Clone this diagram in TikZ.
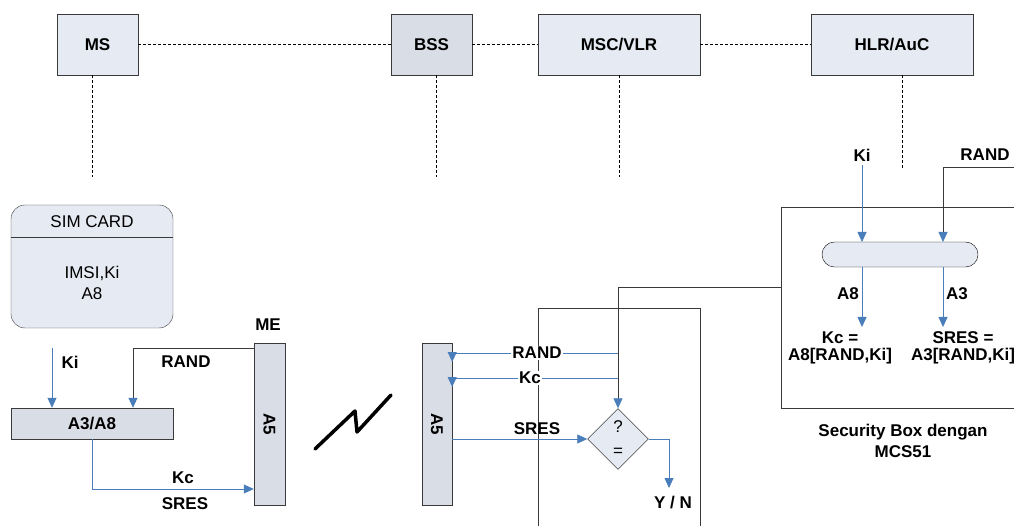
\documentclass[tikz,border=0pt]{standalone}
\usepackage{fontspec}
\setmainfont{Liberation Sans}
\usetikzlibrary{arrows.meta,shapes.geometric,calc}
\definecolor{boxfill}{HTML}{E6EAF2}
\definecolor{boxdark}{HTML}{D9DDE6}
\definecolor{linegray}{HTML}{3A3A3A}
\definecolor{arrowblue}{HTML}{4A7EBB}
\tikzset{
  unit/.style={draw=linegray, fill=boxfill, minimum height=61pt, font=\fontsize{17}{17}\selectfont\bfseries},
  algo/.style={draw=linegray, fill=boxdark, inner sep=0pt},
  lbl/.style={font=\fontsize{17}{17}\selectfont\bfseries, align=center, inner sep=1pt},
  link/.style={dash pattern=on 3pt off 2pt, line width=0.9pt},
  blu/.style={arrowblue, line width=0.8pt, -{Triangle[width=9pt,length=10pt]}},
  blk/.style={linegray, line width=0.8pt, -{Triangle[width=9pt,length=10pt,color=arrowblue]}},
}
\begin{document}
\begin{tikzpicture}[x=1pt, y=-1pt]
\useasboundingbox (0,0) rectangle (1014,526);
\clip (0,0) rectangle (1014,526);
% network elements
\node[unit, minimum width=81pt] (ms) at (97.5,44.5) {MS};
\node[unit, minimum width=81pt, fill=boxdark] (bss) at (431.5,44.5) {BSS};
\node[unit, minimum width=162pt] (msc) at (619,44.5) {MSC/VLR};
\node[unit, minimum width=162pt] (hlr) at (892,44.5) {HLR/AuC};
\draw[link] (ms) -- (bss);
\draw[link] (bss) -- (msc);
\draw[link] (msc) -- (hlr);
\coordinate (msend) at (92,177);
\coordinate (bssend) at (436,177);
\coordinate (mscend) at (619,177);
\coordinate (hlrend) at (902,170);
\draw[link] (msend |- ms.south) -- (msend);
\draw[link] (bssend |- bss.south) -- (bssend);
\draw[link] (mscend |- msc.south) -- (mscend);
\draw[link] (hlrend |- hlr.south) -- (hlrend);
% mobile station
\node[draw=linegray, fill=boxfill, rounded corners=14pt, minimum width=162pt, minimum height=123pt] (sim) at (92,266.5) {};
\draw[linegray] (sim.west |- 0,237) -- (sim.east |- 0,237);
\node[font=\fontsize{17}{17}\selectfont] (simtitle) at (92,222) {SIM CARD};
\node[font=\fontsize{17}{21}\selectfont, align=center] (simdata) at (92,283) {IMSI,Ki\\A8};
\node[algo, minimum width=162pt, minimum height=31pt, font=\fontsize{17}{17}\selectfont\bfseries] (a38) at (92,423.5) {A3/A8};
\node[algo, minimum width=31pt, minimum height=162pt] (mea5) at (269.5,424) {};
\node[lbl, rotate=-90] (mea5txt) at (mea5) {A5};
\node[lbl] (me) at (268,325) {ME};
\coordinate (kitop) at (52,348);
\draw[blu] (kitop) -- (kitop |- a38.north);
\node[lbl] (ki) at (70,362) {Ki};
\draw[blk] (mea5.west |- kitop) -| ($(a38.north)+(41,0)$);
\node[lbl] (rand) at (186,362) {RAND};
\draw[blu] (a38.south) |- (mea5.west |- 0,489);
\node[lbl] (kc) at (183,478) {Kc};
\node[lbl] (sres) at (185,504) {SRES};
% radio link
\draw[line width=3.5pt, line cap=round, line join=round] (315,449) -- (355,411) -- (357,432) -- (391,395);
% base station side
\node[algo, minimum width=30pt, minimum height=162pt] (bsa5) at (437,424) {};
\node[lbl, rotate=-90] (bsa5txt) at (bsa5) {A5};
\draw[linegray, line width=0.8pt] (538,540) -- (538,308) -- (700,308) -- (700,540);
\node[draw=black, fill=boxfill, diamond, minimum width=61pt, minimum height=61pt, inner sep=0pt] (cmp) at (618,439) {};
\node[font=\fontsize{17}{17}\selectfont] (cmpq) at (618,427) {?};
\node[font=\fontsize{17}{17}\selectfont] (cmpeq) at (618,452) {=};
\draw[blk] (781,287) -| (cmp.north);
\draw[blu] (618,353) -- (bsa5.east |- 0,353) -- (bsa5.east |- 0,362);
\draw[blu] (618,378) -- (bsa5.east |- 0,378) -- (bsa5.east |- 0,387);
\node[lbl, fill=white] (rand2) at (537,353) {RAND};
\node[lbl, fill=white] (kc2) at (530,378) {Kc};
\draw[blu] (bsa5.east |- cmp.west) -- (cmp.west);
\node[lbl] (sres2) at (537,429) {SRES};
\draw[blu] (cmp.east) -| (669,488);
\node[lbl] (yn) at (673,503) {Y / N};
% authentication centre
\node[draw=linegray, minimum width=249pt, minimum height=201pt, line width=0.8pt] (secbox) at (905.5,307.5) {};
\node[draw=black, fill=boxfill, rounded corners=12.5pt, minimum width=156pt, minimum height=25pt] (pill) at (900,254.5) {};
\node[lbl] (kitop2) at (862,155) {Ki};
\node[lbl] (randtop) at (985,155) {RAND};
\draw[blu] (kitop2.south) ++(0,3) -- (862,242);
\draw[blk] (1020,167) -| (943,242);
\draw[blu] (862,267) -- (862,327);
\draw[blu] (943,267) -- (943,327);
\node[lbl] (a8) at (848,294) {A8};
\node[lbl] (a3) at (957,294) {A3};
\node[lbl] (kcout) at (840,348) {Kc =\\A8[RAND,Ki]};
\node[lbl] (sresout) at (963,348) {SRES =\\A3[RAND,Ki]};
\node[lbl, font=\fontsize{17}{21.5}\selectfont\bfseries] (seclbl) at (903,441) {Security Box dengan\\MCS51};
\end{tikzpicture}
\end{document}
